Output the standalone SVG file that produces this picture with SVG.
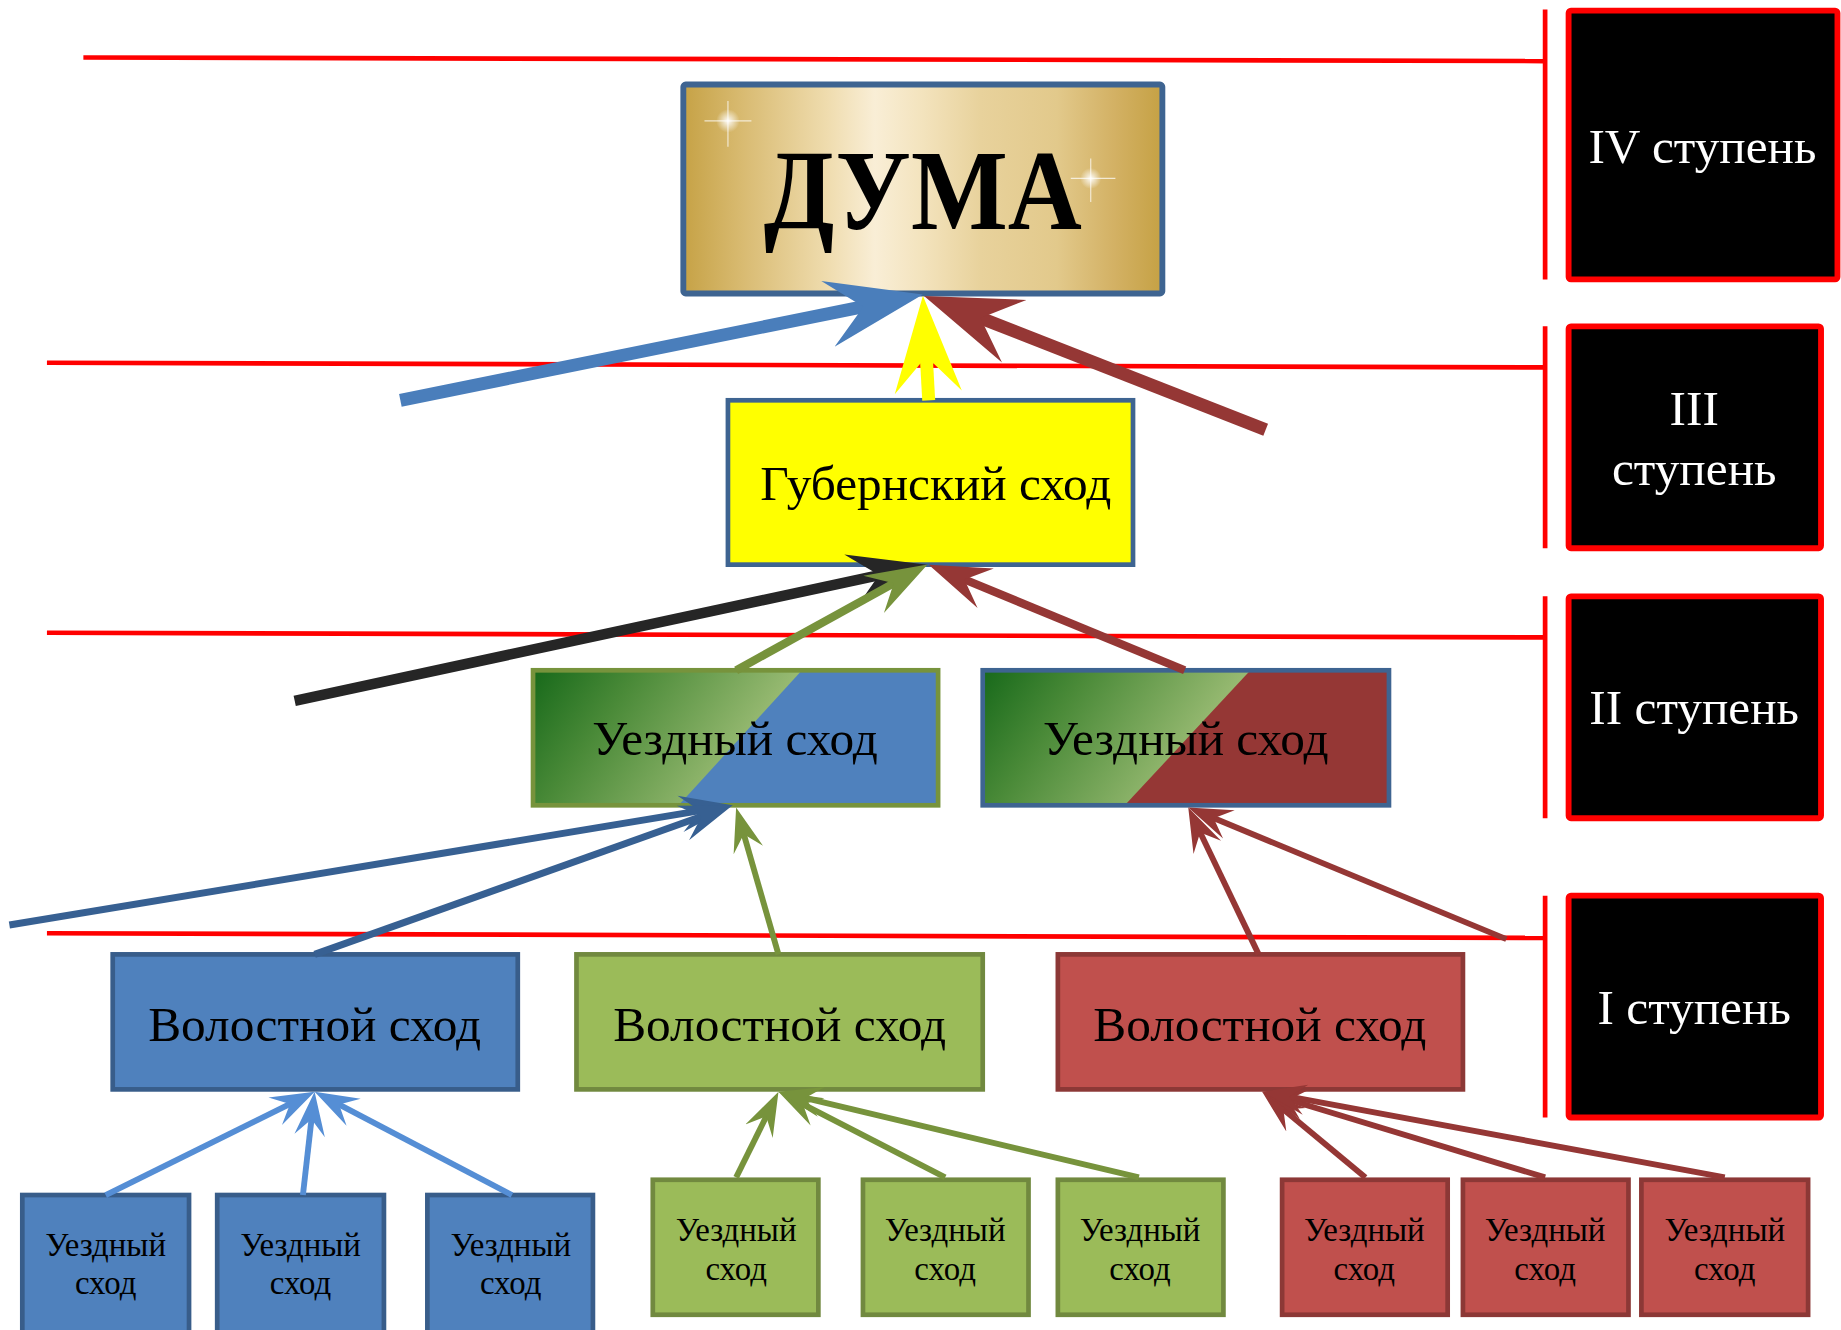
<svg xmlns="http://www.w3.org/2000/svg" width="1841" height="1330" viewBox="0 0 1841 1330">
<style>
.rl{stroke:#ff0000;stroke-width:4;fill:none}
.lvl{fill:#000;stroke:#ff0000;stroke-width:5}
.lt{fill:#fff;font-family:"Liberation Serif",serif;font-size:42px;text-anchor:middle}
.t{fill:#000;font-family:"Liberation Serif",serif;text-anchor:middle}
.m{font-size:42px}
.s{font-size:28px}
.c{fill:none;stroke-linecap:butt}
</style>
<defs>
<linearGradient id="gold" x1="0" y1="0" x2="1" y2="0">
<stop offset="0" stop-color="#c6a246"/>
<stop offset="0.12" stop-color="#d8ba70"/>
<stop offset="0.3" stop-color="#efdcae"/>
<stop offset="0.4" stop-color="#f9eed6"/>
<stop offset="0.5" stop-color="#f3e3bd"/>
<stop offset="0.62" stop-color="#e8d29c"/>
<stop offset="0.78" stop-color="#e2c98b"/>
<stop offset="0.9" stop-color="#d3b164"/>
<stop offset="1" stop-color="#c5a144"/>
</linearGradient>
<linearGradient id="grn" x1="0" y1="0" x2="1" y2="0.35">
<stop offset="0" stop-color="#17691a"/>
<stop offset="0.35" stop-color="#4a8a38"/>
<stop offset="1" stop-color="#a8c47e"/>
</linearGradient>
<radialGradient id="spark">
<stop offset="0" stop-color="#fff" stop-opacity="0.95"/>
<stop offset="1" stop-color="#fff" stop-opacity="0"/>
</radialGradient>
<marker id="aBlue" viewBox="0 -3 8 6" refX="3.5" refY="0" markerWidth="8" markerHeight="6" markerUnits="strokeWidth" orient="auto"><path d="M0,-2.6 L7.5,0 L0,2.6 L2.8,0 z" fill="#4a7ebb"/></marker>
<marker id="aYel" viewBox="0 -3 8 6" refX="3.5" refY="0" markerWidth="8" markerHeight="6" markerUnits="strokeWidth" orient="auto"><path d="M0,-2.6 L7.5,0 L0,2.6 L2.8,0 z" fill="#ffff00"/></marker>
<marker id="aDRed" viewBox="0 -3 8 6" refX="3.5" refY="0" markerWidth="8" markerHeight="6" markerUnits="strokeWidth" orient="auto"><path d="M0,-2.6 L7.5,0 L0,2.6 L2.8,0 z" fill="#953735"/></marker>
<marker id="aBlk" viewBox="0 -3 8 6" refX="3.5" refY="0" markerWidth="8" markerHeight="6" markerUnits="strokeWidth" orient="auto"><path d="M0,-2.6 L7.5,0 L0,2.6 L2.8,0 z" fill="#262626"/></marker>
<marker id="aGrn" viewBox="0 -3 8 6" refX="3.5" refY="0" markerWidth="8" markerHeight="6" markerUnits="strokeWidth" orient="auto"><path d="M0,-2.6 L7.5,0 L0,2.6 L2.8,0 z" fill="#77933c"/></marker>
<marker id="aDBlue" viewBox="0 -3 8 6" refX="3.5" refY="0" markerWidth="8" markerHeight="6" markerUnits="strokeWidth" orient="auto"><path d="M0,-2.6 L7.5,0 L0,2.6 L2.8,0 z" fill="#376092"/></marker>
<marker id="aLBlue" viewBox="0 -3 8 6" refX="3.5" refY="0" markerWidth="8" markerHeight="6" markerUnits="strokeWidth" orient="auto"><path d="M0,-2.6 L7.5,0 L0,2.6 L2.8,0 z" fill="#558ed5"/></marker>
</defs>
<rect width="1841" height="1330" fill="#fff"/>
<g transform="scale(1.1741,1.1739)">
<g id="guides">
<line class="rl" x1="71" y1="49" x2="1316" y2="52"/>
<line class="rl" x1="40" y1="309" x2="1316" y2="313"/>
<line class="rl" x1="40" y1="539" x2="1316" y2="543"/>
<line class="rl" x1="40" y1="795" x2="1316" y2="799"/>
<line class="rl" x1="1316" y1="8" x2="1316" y2="238"/>
<line class="rl" x1="1316" y1="278" x2="1316" y2="467"/>
<line class="rl" x1="1316" y1="508" x2="1316" y2="697"/>
<line class="rl" x1="1316" y1="763" x2="1316" y2="952"/>
</g>
<g id="level4"><rect class="lvl" x="1336" y="9" width="229" height="229" rx="2"/><text class="lt" x="1450" y="139">IV ступень</text></g>
<g id="level3"><rect class="lvl" x="1336" y="278" width="215" height="189" rx="2"/><text class="lt" x="1443" y="362">III</text><text class="lt" x="1443" y="413">ступень</text></g>
<g id="level2"><rect class="lvl" x="1336" y="508" width="215" height="189" rx="2"/><text class="lt" x="1443" y="617">II ступень</text></g>
<g id="level1"><rect class="lvl" x="1336" y="763" width="215" height="189" rx="2"/><text class="lt" x="1443" y="872">I ступень</text></g>

<g id="duma">
<rect x="582" y="72" width="408" height="178" fill="url(#gold)" stroke="#3e6491" stroke-width="5" rx="2"/>
<circle cx="620" cy="103" r="10" fill="url(#spark)"/>
<line x1="600" y1="103" x2="640" y2="103" stroke="#fff" stroke-opacity="0.7" stroke-width="1"/>
<line x1="620" y1="86" x2="620" y2="125" stroke="#fff" stroke-opacity="0.7" stroke-width="1"/>
<circle cx="929" cy="152" r="9" fill="url(#spark)"/>
<line x1="912" y1="152" x2="950" y2="152" stroke="#fff" stroke-opacity="0.7" stroke-width="1"/>
<line x1="929" y1="135" x2="929" y2="172" stroke="#fff" stroke-opacity="0.7" stroke-width="1"/>
<text class="t" x="786" y="195" font-size="98" font-weight="bold" textLength="271" lengthAdjust="spacingAndGlyphs">ДУМА</text>
</g>

<g id="gubern">
<rect x="620" y="341" width="345" height="140" fill="#ffff00" stroke="#3e6491" stroke-width="4"/>
<text class="t m" x="797" y="426">Губернский сход</text>
</g>

<g id="uezd-left">
<rect x="454" y="571" width="345" height="115" fill="#4f81bd"/>
<polygon points="454,571 683,571 578,686 454,686" fill="url(#grn)"/>
<rect x="454" y="571" width="345" height="115" fill="none" stroke="#77933c" stroke-width="4"/>
<text class="t m" x="626" y="643">Уездный сход</text>
</g>
<g id="uezd-right">
<rect x="837" y="571" width="346" height="115" fill="#953735"/>
<polygon points="837,571 1065,571 958,686 837,686" fill="url(#grn)"/>
<rect x="837" y="571" width="346" height="115" fill="none" stroke="#3e6491" stroke-width="4"/>
<text class="t m" x="1010" y="643">Уездный сход</text>
</g>

<g id="volost-blue"><rect x="96" y="813" width="345" height="115" fill="#4f81bd" stroke="#385d8a" stroke-width="4"/><text class="t m" x="268" y="887">Волостной сход</text></g>
<g id="volost-green"><rect x="491" y="813" width="346" height="115" fill="#9bbb59" stroke="#71893f" stroke-width="4"/><text class="t m" x="664" y="887">Волостной сход</text></g>
<g id="volost-red"><rect x="901" y="813" width="345" height="115" fill="#c0504d" stroke="#8c3836" stroke-width="4"/><text class="t m" x="1073" y="887">Волостной сход</text></g>

<g id="u-b1"><rect x="19" y="1018" width="142" height="125" fill="#4f81bd" stroke="#385d8a" stroke-width="4"/><text class="t s" x="90" y="1070">Уездный</text><text class="t s" x="90" y="1102">сход</text></g>
<g id="u-b2"><rect x="185" y="1018" width="142" height="125" fill="#4f81bd" stroke="#385d8a" stroke-width="4"/><text class="t s" x="256" y="1070">Уездный</text><text class="t s" x="256" y="1102">сход</text></g>
<g id="u-b3"><rect x="364" y="1018" width="141" height="125" fill="#4f81bd" stroke="#385d8a" stroke-width="4"/><text class="t s" x="435" y="1070">Уездный</text><text class="t s" x="435" y="1102">сход</text></g>

<g id="u-g1"><rect x="556" y="1005" width="141" height="115" fill="#9bbb59" stroke="#71893f" stroke-width="4"/><text class="t s" x="627" y="1057">Уездный</text><text class="t s" x="627" y="1090">сход</text></g>
<g id="u-g2"><rect x="735" y="1005" width="141" height="115" fill="#9bbb59" stroke="#71893f" stroke-width="4"/><text class="t s" x="805" y="1057">Уездный</text><text class="t s" x="805" y="1090">сход</text></g>
<g id="u-g3"><rect x="901" y="1005" width="141" height="115" fill="#9bbb59" stroke="#71893f" stroke-width="4"/><text class="t s" x="971" y="1057">Уездный</text><text class="t s" x="971" y="1090">сход</text></g>

<g id="u-r1"><rect x="1092" y="1005" width="141" height="115" fill="#c0504d" stroke="#8c3836" stroke-width="4"/><text class="t s" x="1162" y="1057">Уездный</text><text class="t s" x="1162" y="1090">сход</text></g>
<g id="u-r2"><rect x="1246" y="1005" width="141" height="115" fill="#c0504d" stroke="#8c3836" stroke-width="4"/><text class="t s" x="1316" y="1057">Уездный</text><text class="t s" x="1316" y="1090">сход</text></g>
<g id="u-r3"><rect x="1398" y="1005" width="142" height="115" fill="#c0504d" stroke="#8c3836" stroke-width="4"/><text class="t s" x="1469" y="1057">Уездный</text><text class="t s" x="1469" y="1090">сход</text></g>

<g id="connectors" class="c">
<line x1="341" y1="341" x2="742.9" y2="259.7" stroke="#4a7ebb" stroke-width="11" marker-end="url(#aBlue)"/>
<line x1="791" y1="341" x2="788.5" y2="295.9" stroke="#ffff00" stroke-width="11" marker-end="url(#aYel)"/>
<line x1="1078" y1="366" x2="828" y2="268.1" stroke="#953735" stroke-width="11" marker-end="url(#aDRed)"/>
<line x1="251" y1="597" x2="754.8" y2="488.6" stroke="#262626" stroke-width="9" marker-end="url(#aBlk)"/>
<line x1="627" y1="571" x2="765.5" y2="494.5" stroke="#77933c" stroke-width="7" marker-end="url(#aGrn)"/>
<line x1="1009" y1="571" x2="816.9" y2="491.7" stroke="#953735" stroke-width="7" marker-end="url(#aDRed)"/>
<line x1="8" y1="788" x2="600.3" y2="689.9" stroke="#376092" stroke-width="6" marker-end="url(#aDBlue)"/>
<line x1="268" y1="813" x2="601.4" y2="694.1" stroke="#376092" stroke-width="6" marker-end="url(#aDBlue)"/>
<line x1="663" y1="813" x2="632.5" y2="707.2" stroke="#77933c" stroke-width="5" marker-end="url(#aGrn)"/>
<line x1="1072" y1="813" x2="1020.7" y2="706" stroke="#953735" stroke-width="5" marker-end="url(#aDRed)"/>
<line x1="1283" y1="800" x2="1030.5" y2="695.6" stroke="#953735" stroke-width="5" marker-end="url(#aDRed)"/>
<line x1="90" y1="1018" x2="250.1" y2="938.9" stroke="#558ed5" stroke-width="5" marker-end="url(#aLBlue)"/>
<line x1="258" y1="1018" x2="265.7" y2="949.9" stroke="#558ed5" stroke-width="5" marker-end="url(#aLBlue)"/>
<line x1="436" y1="1018" x2="285.7" y2="939.3" stroke="#558ed5" stroke-width="5" marker-end="url(#aLBlue)"/>
<line x1="627" y1="1003" x2="654.2" y2="947.9" stroke="#77933c" stroke-width="5" marker-end="url(#aGrn)"/>
<line x1="805" y1="1003" x2="680.8" y2="939.1" stroke="#77933c" stroke-width="5" marker-end="url(#aGrn)"/>
<line x1="970" y1="1003" x2="682.5" y2="934.6" stroke="#77933c" stroke-width="5" marker-end="url(#aGrn)"/>
<line x1="1163" y1="1003" x2="1090.4" y2="942.8" stroke="#953735" stroke-width="5" marker-end="url(#aDRed)"/>
<line x1="1316" y1="1003" x2="1094.1" y2="935.8" stroke="#953735" stroke-width="5" marker-end="url(#aDRed)"/>
<line x1="1469" y1="1003" x2="1094.7" y2="933.6" stroke="#953735" stroke-width="5" marker-end="url(#aDRed)"/>
</g>
</g>
</svg>
